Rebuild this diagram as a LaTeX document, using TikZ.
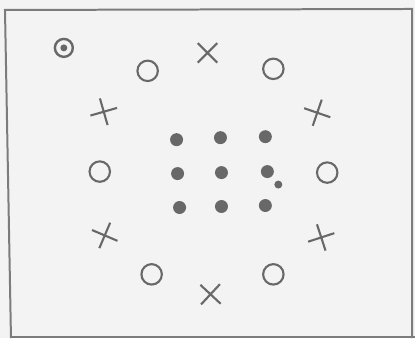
\documentclass[tikz,border=0pt]{standalone}
\usetikzlibrary{shapes.misc}
\definecolor{markgray}{HTML}{686868}
\definecolor{framegray}{HTML}{7C7C7C}
\definecolor{bggray}{HTML}{F3F3F3}
\begin{document}
\begin{tikzpicture}[x=1pt,y=-1pt,
  ink/.style={draw=markgray, line width=2.1pt},
  ring/.style={circle, ink, minimum size=20.5pt, inner sep=0pt},
  xmark/.style={cross out, ink, minimum size=17.5pt, inner sep=0pt},
  dot/.style={circle, fill=markgray, minimum size=13pt, inner sep=0pt},
  smalldot/.style={circle, fill=markgray, minimum size=8pt, inner sep=0pt},
]
% background and frame
\fill[bggray] (0,0) rectangle (416,339);
\draw[framegray, line width=2pt] (11,339) -- (5,10) -- (413,9) -- (413,339);
\draw[framegray, line width=2pt] (11,338) -- (416,338);
% target symbol
\node[circle, ink, line width=2.4pt, minimum size=18pt, inner sep=0pt] (tgt) at (64,48) {};
\node[circle, fill=markgray, minimum size=7pt, inner sep=0pt] (tgtc) at (tgt.center) {};
% ring of circles
\node[ring] (c1) at (148,71) {};
\node[ring] (c2) at (274,69) {};
\node[ring] (c3) at (100,172) {};
\node[ring] (c4) at (328,173) {};
\node[ring] (c5) at (152,275) {};
\node[ring] (c6) at (274,275) {};
% ring of crosses
\node[xmark] (x1) at (208,53) {};
\node[xmark, rotate=-29] (x2) at (104,112) {};
\node[xmark, rotate=-64] (x3) at (318,113) {};
\node[xmark, rotate=-68] (x4) at (105,236) {};
\node[xmark, rotate=-27] (x5) at (322,238) {};
\node[xmark, rotate=2] (x6) at (211,295) {};
% centre grid of dots
\node[dot] (d11) at (177,140) {};
\node[dot] (d12) at (221,138) {};
\node[dot] (d13) at (266,137) {};
\node[dot] (d21) at (178,174) {};
\node[dot] (d22) at (222,173) {};
\node[dot] (d23) at (268,172) {};
\node[dot] (d31) at (180,208) {};
\node[dot] (d32) at (222,207) {};
\node[dot] (d33) at (266,206) {};
\node[smalldot] (s1) at (279,185) {};
\end{tikzpicture}
\end{document}
